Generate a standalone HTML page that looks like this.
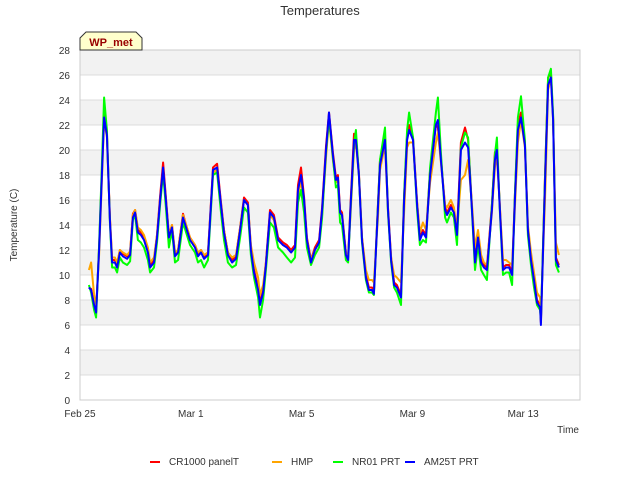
<!DOCTYPE html>
<html><head><meta charset="utf-8"><style>
body{margin:0;background:#fff;font-family:"Liberation Sans",sans-serif}
svg text{font-family:"Liberation Sans",sans-serif}
</style></head><body>
<svg id="c" width="640" height="480" xmlns="http://www.w3.org/2000/svg">
<text x="320" y="15" text-anchor="middle" font-size="13" fill="#333">Temperatures</text>
<g id="plot"></g>
<text transform="translate(17,225) rotate(-90)" text-anchor="middle" font-size="10" fill="#333">Temperature (C)</text>
<text x="579" y="433" text-anchor="end" font-size="10" fill="#333">Time</text>
<g>
<path d="M80,50 L80,38 L86,32 L136,32 L142,38 L142,50 Z" fill="#ffffcc" stroke="#333" stroke-width="1"/>
<text x="111" y="46" text-anchor="middle" font-size="11" font-weight="bold" fill="#990000">WP_met</text>
</g>
<g id="legend"></g>
</svg>
<script>
const days=[0.32,0.40,0.51,0.58,0.69,0.79,0.87,0.97,1.08,1.16,1.26,1.34,1.44,1.55,1.70,1.81,1.91,1.99,2.09,2.20,2.31,2.45,2.53,2.67,2.78,2.89,3.00,3.10,3.21,3.32,3.43,3.54,3.72,3.83,3.97,4.15,4.26,4.37,4.48,4.62,4.80,4.95,5.09,5.20,5.34,5.49,5.63,5.78,5.92,6.06,6.17,6.28,6.43,6.50,6.61,6.71,6.86,7.00,7.15,7.33,7.47,7.62,7.76,7.87,7.98,8.09,8.19,8.34,8.48,8.63,8.74,8.88,8.99,9.13,9.24,9.31,9.39,9.46,9.60,9.68,9.78,9.89,9.96,10.07,10.18,10.32,10.43,10.54,10.61,10.76,10.83,11.01,11.12,11.23,11.34,11.44,11.59,11.70,11.81,11.88,12.02,12.17,12.27,12.38,12.49,12.64,12.85,12.92,13.03,13.18,13.25,13.39,13.50,13.61,13.75,13.90,14.01,14.15,14.26,14.37,14.48,14.58,14.69,14.87,14.98,15.05,15.16,15.27,15.38,15.49,15.60,15.70,15.81,15.92,16.06,16.17,16.28,16.39,16.50,16.61,16.64,16.79,16.90,17.00,17.08,17.18,17.29];
const cr1000=[9.0,8.9,7.7,7.1,12.2,18.3,23.0,21.4,14.6,11.2,11.2,10.8,12.0,11.7,11.5,11.8,14.9,15.2,13.6,13.4,13.0,12.0,10.8,11.2,13.2,16.3,19.0,16.2,13.2,14.0,11.7,12.0,14.9,14.0,13.0,12.4,11.7,12.0,11.5,11.8,18.6,18.9,15.8,13.6,11.8,11.2,11.5,13.8,16.2,15.8,12.2,10.4,9.0,7.8,8.8,11.0,15.2,14.8,13.0,12.6,12.4,12.0,12.4,17.2,18.6,16.2,13.0,11.2,12.2,12.8,15.4,20.3,23.0,19.8,17.8,18.0,15.2,15.0,11.8,11.4,16.3,21.3,21.0,18.2,13.0,10.0,9.0,9.0,8.7,15.9,19.2,21.0,15.4,11.4,9.4,9.2,8.4,16.3,21.2,22.0,21.0,15.8,13.0,13.6,13.2,18.4,22.0,21.8,19.4,15.4,15.0,15.6,15.2,13.4,20.6,21.8,20.8,15.4,11.2,13.2,11.2,10.8,10.6,15.6,19.8,20.2,15.4,10.6,10.8,10.8,10.2,16.4,22.0,23.0,20.6,13.8,11.4,9.8,8.0,7.6,6.2,18.2,25.8,26.2,22.6,11.4,10.8];
const hmp=[10.4,11.0,8.4,7.4,11.6,17.6,22.4,21.0,14.6,11.4,11.4,11.0,12.0,11.8,11.6,11.9,14.8,15.2,13.8,13.6,13.2,12.2,11.0,11.4,13.2,16.0,18.4,16.0,13.2,14.0,11.8,12.0,14.8,14.0,13.0,12.4,11.8,12.0,11.6,11.8,18.2,18.4,15.6,13.6,11.8,11.4,11.6,13.8,16.0,15.6,12.4,11.0,9.8,8.4,9.2,11.0,14.8,14.4,12.8,12.4,12.2,11.8,12.2,16.2,17.6,15.6,12.8,11.2,12.0,12.6,14.8,19.4,22.4,19.2,17.4,17.6,15.0,14.8,11.8,11.4,15.4,20.0,20.6,18.0,13.0,10.4,9.6,9.6,9.4,14.8,18.4,20.4,15.0,11.4,10.0,9.8,9.4,15.0,20.2,20.6,20.6,15.8,13.4,14.2,13.6,17.4,20.6,21.4,19.0,15.6,15.4,16.0,15.4,13.6,17.6,18.0,19.2,15.6,12.2,13.6,11.6,11.0,10.8,15.0,18.6,19.6,15.4,11.2,11.2,11.0,10.8,15.4,20.6,22.4,20.2,14.0,11.8,10.2,8.6,8.2,7.0,16.2,24.8,25.8,22.4,12.6,11.6];
const nr01=[9.2,8.6,7.2,6.6,12.4,18.8,24.2,21.6,14.2,10.6,10.6,10.2,11.4,11.0,10.8,11.1,14.4,14.8,12.8,12.6,12.2,11.2,10.2,10.6,12.6,15.6,18.2,15.4,12.2,13.6,11.0,11.2,14.2,13.4,12.4,11.8,11.0,11.2,10.6,11.2,18.0,18.2,15.0,12.8,11.0,10.6,10.8,13.0,15.4,15.0,11.6,9.8,8.2,6.6,8.0,10.4,14.2,13.8,12.2,11.8,11.4,11.0,11.4,15.8,16.8,15.0,12.2,10.8,11.6,12.2,14.6,19.8,22.6,19.4,17.0,17.2,14.2,14.0,11.2,11.0,15.8,20.4,21.6,18.0,12.6,9.6,8.6,8.6,8.4,15.8,19.2,21.8,15.0,11.0,9.0,8.6,7.6,16.4,21.6,23.0,21.0,15.2,12.4,12.8,12.6,18.6,23.0,24.2,19.8,14.6,14.2,15.0,14.6,12.4,20.2,21.4,21.0,15.0,10.4,12.4,10.4,10.0,9.6,15.6,19.6,21.0,15.0,10.0,10.2,10.2,9.2,16.4,22.6,24.3,20.8,13.2,10.8,9.0,7.6,7.2,6.4,18.0,25.8,26.5,22.8,10.8,10.2];
const am25t=[9.0,8.8,7.6,7.0,12,18,22.6,21.2,14.4,11.0,11,10.6,11.8,11.5,11.3,11.6,14.6,15,13.4,13.2,12.8,11.8,10.6,11,13,16,18.6,16,13,13.8,11.5,11.8,14.6,13.8,12.8,12.2,11.5,11.8,11.3,11.6,18.4,18.6,15.6,13.4,11.6,11,11.3,13.6,16,15.6,12,10.2,8.8,7.6,8.6,10.8,15,14.6,12.8,12.4,12.2,11.8,12.2,16.8,18,16,12.8,11,12,12.6,15.2,20,23,19.6,17.6,17.8,15,14.8,11.6,11.2,16,20.8,20.8,18,12.8,9.8,8.8,8.8,8.5,15.6,18.8,20.8,15.2,11.2,9.2,9,8.2,16,20.8,21.6,20.8,15.6,12.8,13.4,13,18,22,22.4,19.2,15.2,14.8,15.4,15,13.2,20,20.6,20.2,15.2,11,13,11,10.6,10.4,15.2,19.2,20,15.2,10.4,10.6,10.6,10,16,21.6,22.6,20.4,13.6,11.2,9.6,7.8,7.4,6.0,17.6,25.2,25.8,22.4,11.2,10.6];
const yTicks=[0,2,4,6,8,10,12,14,16,18,20,22,24,26,28];
const xTickDays=[0,4,8,12,16];
const xTickLabels=["Feb 25","Mar 1","Mar 5","Mar 9","Mar 13"];
const seriesNames=["CR1000 panelT","HMP","NR01 PRT","AM25T PRT"];
const seriesColors=["#ff0000","#ffa500","#00ff00","#0000ff"];
const seriesData=[cr1000,hmp,nr01,am25t];

const NS="http://www.w3.org/2000/svg";
const L=80,R=580,T=50,B=400;
const xs=d=>L+d*27.7;
const ys=v=>B-(v/28)*(B-T);
const plot=document.getElementById('plot');
function mk(tag,attrs,parent){const e=document.createElementNS(NS,tag);for(const k in attrs)e.setAttribute(k,attrs[k]);parent.appendChild(e);return e;}
// bands
for(let i=0;i<yTicks.length-1;i++){
  if(i%2===1){
    const r=mk('rect',{x:L,y:ys(yTicks[i+1]),width:R-L,height:ys(yTicks[i])-ys(yTicks[i+1]),fill:'#f2f2f2'},plot);
    
    
  }
}
yTicks.forEach(v=>{
  const g=mk('line',{x1:L,x2:R,y1:ys(v),y2:ys(v),stroke:'#dcdcdc','stroke-width':1},plot);
  
  
  const t=mk('text',{x:L-10,y:ys(v)+4,'text-anchor':'end','font-size':10,fill:'#333'},plot);
  t.textContent=v;
  
  
});
mk('rect',{x:L,y:T,width:R-L,height:B-T,fill:'none',stroke:'#cccccc'},plot);
xTickDays.forEach((d,i)=>{
  const t=mk('text',{x:xs(d),y:417,'text-anchor':'middle','font-size':10,fill:'#333'},plot);
  t.textContent=xTickLabels[i];
  
  
});
seriesData.forEach((arr,si)=>{
  const n=Math.min(arr.length,days.length);
  let d='';
  for(let i=0;i<n;i++)d+=(i?'L':'M')+xs(days[i]).toFixed(1)+','+ys(arr[i]).toFixed(1);
  const p=mk('path',{d:d,fill:'none',stroke:seriesColors[si],'stroke-width':2,'stroke-linejoin':'round'},plot);
  
  
});
const leg=document.getElementById('legend');
const legX=[150,272,333,405];
seriesNames.forEach((nm,i)=>{
  const g=mk('g',{},leg);
  
  
  mk('line',{x1:legX[i],x2:legX[i]+10,y1:462,y2:462,stroke:seriesColors[i],'stroke-width':2},g);
  const t=mk('text',{x:legX[i]+19,y:465,'font-size':10,fill:'#333'},g);
  t.textContent=nm;
});
</script>
</body></html>
